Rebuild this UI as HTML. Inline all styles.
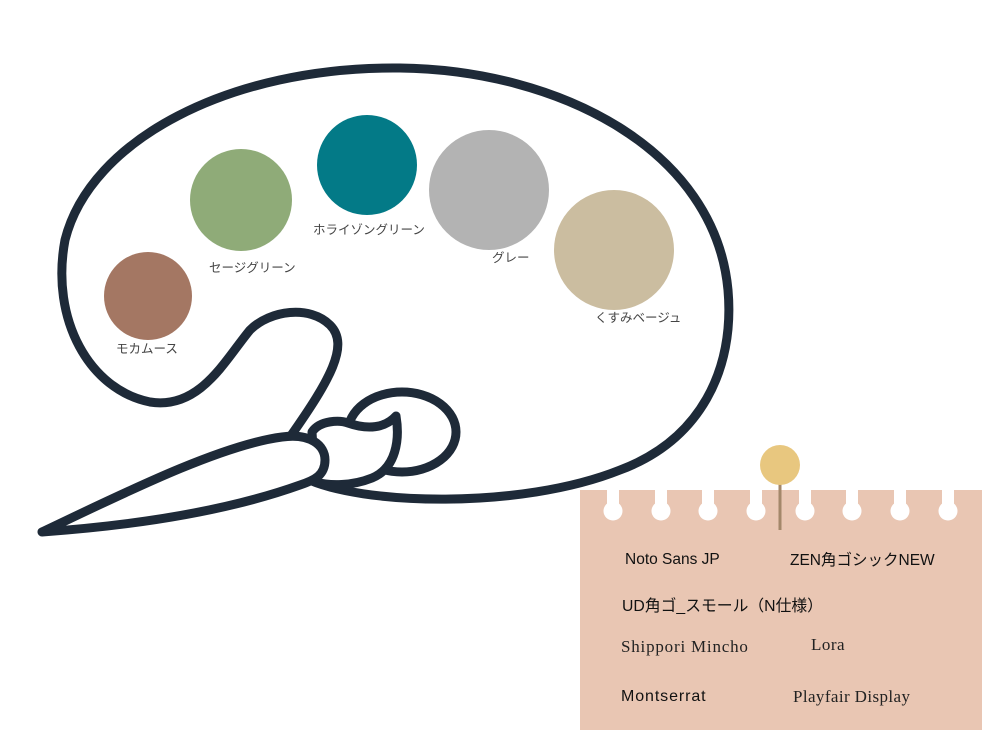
<!DOCTYPE html>
<html><head><meta charset="utf-8"><style>
body{margin:0;width:1000px;height:750px;background:#fff;overflow:hidden;position:relative}
svg{position:absolute;left:0;top:0}
.l{font-family:"Liberation Sans","Noto Sans CJK JP",sans-serif;font-size:12.5px;fill:#444}
.s{font-family:"Liberation Sans","Noto Sans CJK JP",sans-serif;fill:#111}
.r{font-family:"Liberation Serif","Noto Serif CJK SC",serif;fill:#222}
</style></head><body>
<svg width="1000" height="750" viewBox="0 0 1000 750">
<g fill="none" stroke="#1e2a38" stroke-width="9" stroke-linejoin="round" stroke-linecap="round">
<path d="M305,478 C360,505 520,510 620,470 C700,440 735,370 728,290 C715,150 560,70 400,68 C230,66 90,140 65,240 C50,320 90,390 150,402 C200,410 225,360 250,330 C270,310 310,305 330,325 C350,345 330,380 290,437"/>
<ellipse cx="402" cy="432" rx="54" ry="40" fill="#fff"/>
<path d="M312,432 C320,420 340,420 348,423 C368,430 385,428 396,416 C400,440 396,468 372,478 C352,486 330,486 315,482 Z" fill="#fff"/>
<path d="M42,532 C120,495 220,445 282,437 C310,433 325,445 325,460 C325,475 315,480 300,485 C230,510 140,525 42,532 Z" fill="#fff"/>
</g>
<ellipse cx="148" cy="296" rx="44" ry="44" fill="#a47763"/>
<ellipse cx="241" cy="200" rx="51" ry="51" fill="#8fab78"/>
<ellipse cx="367" cy="165" rx="50" ry="50" fill="#037a87"/>
<ellipse cx="489" cy="190" rx="60" ry="60" fill="#b3b3b3"/>
<ellipse cx="614" cy="250" rx="60" ry="60" fill="#cbbda0"/>
<text class="l" x="116" y="353">モカムース</text>
<text class="l" x="209" y="272">セージグリーン</text>
<text class="l" x="313" y="234">ホライゾングリーン</text>
<text class="l" x="492" y="262">グレー</text>
<text class="l" x="595" y="322">くすみベージュ</text>
<rect x="580" y="490" width="402" height="240" fill="#e9c6b3"/>
<g fill="#fff">
<g id="n"><rect x="607" y="489" width="12" height="20"/><circle cx="613" cy="511" r="9.5"/></g>
<use href="#n" x="48"/><use href="#n" x="95"/><use href="#n" x="143"/><use href="#n" x="192"/><use href="#n" x="239"/><use href="#n" x="287"/><use href="#n" x="335"/>
</g>
<line x1="780" y1="475" x2="780" y2="530" stroke="#a3876a" stroke-width="3"/>
<circle cx="780" cy="465" r="20" fill="#e8c77f"/>
<text class="s" x="625" y="564" font-size="15.5">Noto Sans JP</text>
<text class="s" x="790" y="565" font-size="15.5">ZEN角ゴシックNEW</text>
<text class="s" x="622" y="611" font-size="15.8">UD角ゴ_スモール（N仕様）</text>
<text class="r" x="621" y="652" font-size="17" letter-spacing="0.8">Shippori Mincho</text>
<text class="r" x="811" y="650" font-size="17" letter-spacing="0.5">Lora</text>
<text class="s" x="621" y="701" font-size="16" letter-spacing="0.9">Montserrat</text>
<text class="r" x="793" y="702" font-size="17" letter-spacing="0.4">Playfair Display</text>
</svg>
</body></html>
